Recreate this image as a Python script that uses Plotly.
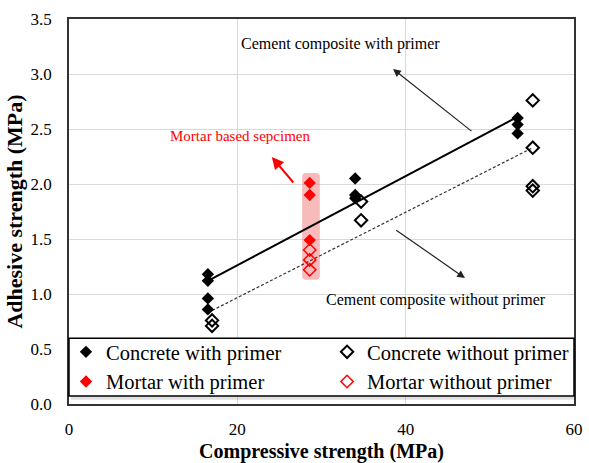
import plotly.graph_objects as go

# ---- data ----
conc_wp_x = [16.5, 16.5, 16.5, 16.5, 34.0, 34.0, 34.0, 53.3, 53.3, 53.3]
conc_wp_y = [1.18, 1.12, 0.96, 0.86, 2.05, 1.90, 1.87, 2.60, 2.54, 2.46]
conc_np_x = [17.0, 17.0, 34.7, 34.7, 55.1, 55.1, 55.1, 55.1]
conc_np_y = [0.76, 0.71, 1.84, 1.67, 2.76, 2.33, 1.98, 1.94]
mort_wp_x = [28.6, 28.6, 28.6]
mort_wp_y = [2.01, 1.90, 1.49]
mort_np_x = [28.6, 28.6, 28.6]
mort_np_y = [1.40, 1.31, 1.22]
fit_wp_x = [16.5, 53.3]
fit_wp_y = [1.12, 2.61]
fit_np_x = [17.0, 55.1]
fit_np_y = [0.85, 2.33]
mortar_band_x = [27.7, 29.8]
mortar_band_y = [1.13, 2.10]

SERIF = "Liberation Serif, Times New Roman, serif"

fig = go.Figure()

# highlight band (rounded rectangle)
x0, x1 = mortar_band_x
y0, y1 = mortar_band_y
rx, ry = 0.45, 0.035
path = (f"M {x0+rx},{y0} L {x1-rx},{y0} Q {x1},{y0} {x1},{y0+ry} "
        f"L {x1},{y1-ry} Q {x1},{y1} {x1-rx},{y1} L {x0+rx},{y1} "
        f"Q {x0},{y1} {x0},{y1-ry} L {x0},{y0+ry} Q {x0},{y0} {x0+rx},{y0} Z")
fig.add_shape(type="path", path=path, xref="x", yref="y", layer="between",
              fillcolor="rgba(242,120,120,0.5)", line=dict(width=0))

# fitted lines
fig.add_trace(go.Scatter(x=fit_wp_x, y=fit_wp_y, mode="lines", showlegend=False,
                         line=dict(color="black", width=2), hoverinfo="skip"))
fig.add_trace(go.Scatter(x=fit_np_x, y=fit_np_y, mode="lines", showlegend=False,
                         line=dict(color="#333333", width=1.2, dash="3px,2px"), hoverinfo="skip"))

fig.add_trace(go.Scatter(x=conc_wp_x, y=conc_wp_y, mode="markers", name="Concrete with primer",
                         marker=dict(symbol="diamond", size=9.5, color="black"), legend="legend"))
fig.add_trace(go.Scatter(x=conc_np_x, y=conc_np_y, mode="markers", name="Concrete without primer",
                         marker=dict(symbol="diamond-open", size=9.5, color="black", line=dict(width=2)),
                         legend="legend2"))
fig.add_trace(go.Scatter(x=mort_wp_x, y=mort_wp_y, mode="markers", name="Mortar with primer",
                         marker=dict(symbol="diamond", size=9.5, color="#ff0000"), legend="legend"))
fig.add_trace(go.Scatter(x=mort_np_x, y=mort_np_y, mode="markers", name="Mortar without primer",
                         marker=dict(symbol="diamond-open", size=9.5, color="#ff0000", line=dict(width=1.5)),
                         legend="legend2"))

# legend box (soft shadow + frame)
fig.add_shape(type="rect", xref="paper", yref="paper", x0=0.004, x1=1.004, y0=0.011, y1=0.165,
              layer="above", fillcolor="rgba(0,0,0,0.12)", line=dict(width=0))
fig.add_shape(type="rect", xref="paper", yref="paper", x0=0, x1=1, y0=0.021, y1=0.171,
              layer="above", fillcolor="white", line=dict(color="black", width=1.5))

# annotations
fig.add_annotation(x=38.5, y=3.045, ax=48.0, ay=2.47, xref="x", yref="y", axref="x", ayref="y",
                   showarrow=True, arrowhead=2, arrowsize=1.3, arrowwidth=1.2, arrowcolor="#222", text="")
fig.add_annotation(x=47.05, y=1.145, ax=38.7, ay=1.59, xref="x", yref="y", axref="x", ayref="y",
                   showarrow=True, arrowhead=2, arrowsize=1.3, arrowwidth=1.2, arrowcolor="#222", text="")
fig.add_annotation(x=24.1, y=2.245, ax=26.8, ay=2.0, xref="x", yref="y", axref="x", ayref="y",
                   showarrow=True, arrowhead=2, arrowsize=1.2, arrowwidth=2, arrowcolor="#ff0000", text="")
fig.add_annotation(x=32.3, y=3.27, xref="x", yref="y", showarrow=False,
                   text="Cement composite with primer", font=dict(family=SERIF, size=16, color="black"))
fig.add_annotation(x=43.6, y=0.945, xref="x", yref="y", showarrow=False,
                   text="Cement composite without primer", font=dict(family=SERIF, size=16, color="black"))
fig.add_annotation(x=20.3, y=2.44, xref="x", yref="y", showarrow=False,
                   text="Mortar based sepcimen", font=dict(family=SERIF, size=15, color="#ff0000"))

leg_common = dict(orientation="v", yanchor="top", xanchor="left", bgcolor="rgba(0,0,0,0)",
                  borderwidth=0, font=dict(family=SERIF, size=20.5, color="black"),
                  tracegroupgap=0, itemclick=False, itemdoubleclick=False)

fig.update_layout(
    width=589, height=463,
    margin=dict(l=69, r=15, t=19, b=59, autoexpand=False),
    paper_bgcolor="white", plot_bgcolor="white",
    font=dict(family=SERIF, color="black"),
    legend=dict(x=-0.006, y=0.187, **leg_common),
    legend2=dict(x=0.511, y=0.187, **leg_common),
    xaxis=dict(range=[0, 60], dtick=20, tick0=0, showgrid=True, gridcolor="#d9d9d9", gridwidth=1,
               showline=True, linecolor="#333333", linewidth=1.5, mirror=True, ticks="",
               ticklabelstandoff=9, tickfont=dict(family=SERIF, size=17, color="black"),
               zeroline=False, automargin=False,
               title=dict(text="<b>Compressive strength (MPa)</b>", standoff=8,
                          font=dict(family=SERIF, size=20, color="black"))),
    yaxis=dict(range=[0, 3.5], dtick=0.5, tick0=0, tickformat=".1f", showgrid=True,
               gridcolor="#d9d9d9", gridwidth=1, showline=True, linecolor="#333333", linewidth=1.5,
               mirror=True, ticks="", ticklabelstandoff=12, zeroline=False, automargin=False,
               tickfont=dict(family=SERIF, size=17, color="black"),
               title=dict(text="<b>Adhesive strength (MPa)</b>", standoff=2,
                          font=dict(family=SERIF, size=22, color="black"))),
)

fig.write_html("out.html")
